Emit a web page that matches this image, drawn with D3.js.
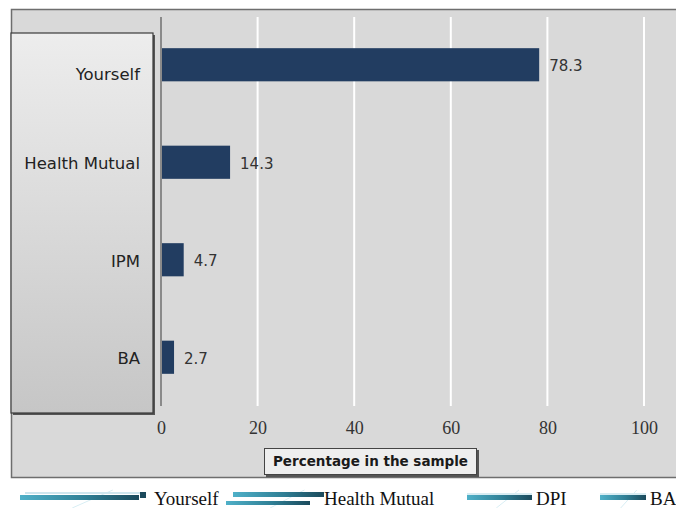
<!DOCTYPE html>
<html>
<head>
<meta charset="utf-8">
<script src="https://cdn.jsdelivr.net/npm/d3@7"></script>
<style>
  html, body { margin: 0; padding: 0; background: #ffffff; }
  svg { display: block; }
</style>
</head>
<body>
<script>
// Who pays for care: share of respondents per payer
const categories = ["Yourself", "Health Mutual", "IPM", "BA"];
const values = [78.3, 14.3, 4.7, 2.7];
const xTicks = [0, 20, 40, 60, 80, 100];
const axisTitle = "Percentage in the sample";
const legendLabels = ["Yourself", "Health Mutual", "DPI", "BA"];

const W = 676, H = 508;
const svg = d3.select("body").append("svg").attr("width", W).attr("height", H);
const defs = svg.append("defs");

// panel gradient for the category label box
const pg = defs.append("linearGradient").attr("id", "panelGrad")
  .attr("x1", 0).attr("y1", 0).attr("x2", 0).attr("y2", 1);
pg.append("stop").attr("offset", "0%").attr("stop-color", "#ededed");
pg.append("stop").attr("offset", "100%").attr("stop-color", "#c6c6c6");

// legend swatch gradient
const lg = defs.append("linearGradient").attr("id", "legGrad")
  .attr("x1", 0).attr("y1", 0).attr("x2", 1).attr("y2", 0);
lg.append("stop").attr("offset", "0%").attr("stop-color", "#4fb0c8");
lg.append("stop").attr("offset", "55%").attr("stop-color", "#2f7f95");
lg.append("stop").attr("offset", "100%").attr("stop-color", "#1b4a5c");

// outer chart frame
svg.append("rect").attr("x", 11.5).attr("y", 9.5).attr("width", 680).attr("height", 468)
  .attr("fill", "#d9d9d9").attr("stroke", "#6e6e6e").attr("stroke-width", 1.5);

const x = d3.scaleLinear().domain([0, 100]).range([161, 644]);
const y = d3.scaleBand().domain(categories).range([16, 406]).paddingInner(0.66).paddingOuter(0.33);

// vertical gridlines
svg.append("g").selectAll("line").data(xTicks.filter(d => d > 0)).join("line")
  .attr("x1", d => x(d)).attr("x2", d => x(d))
  .attr("y1", 17).attr("y2", 406)
  .attr("stroke", "#ffffff").attr("stroke-width", 2);

// category label panel with drop shadow edges
svg.append("rect").attr("x", 13).attr("y", 35).attr("width", 142).attr("height", 380)
  .attr("fill", "#555");
svg.append("rect").attr("x", 11).attr("y", 33).attr("width", 142).attr("height", 380)
  .attr("fill", "url(#panelGrad)").attr("stroke", "#3a3a3a").attr("stroke-width", 1.2);

// value axis line
svg.append("line").attr("x1", 161).attr("x2", 161).attr("y1", 17).attr("y2", 406)
  .attr("stroke", "#8a8a8a").attr("stroke-width", 2);

// bars
svg.append("g").selectAll("rect").data(values).join("rect")
  .attr("x", x(0) + 1)
  .attr("y", (d, i) => y(categories[i]))
  .attr("width", d => x(d) - x(0) - 1)
  .attr("height", y.bandwidth())
  .attr("fill", "#223d61");

// value labels
svg.append("g").selectAll("text").data(values).join("text")
  .attr("x", d => x(d) + 10)
  .attr("y", (d, i) => y(categories[i]) + y.bandwidth() / 2 + 1)
  .attr("dy", "0.36em")
  .attr("font-family", "DejaVu Sans, sans-serif").attr("font-size", 15)
  .attr("fill", "#333")
  .text(d => d.toFixed(1));

// category labels (the top one sits a little lower, clear of the panel's top edge)
svg.append("g").selectAll("text").data(categories).join("text")
  .attr("x", 140)
  .attr("y", (d, i) => y(d) + y.bandwidth() / 2 + (i === 0 ? 9 : 1))
  .attr("dy", "0.36em")
  .attr("text-anchor", "end")
  .attr("font-family", "DejaVu Sans, sans-serif").attr("font-size", 16.5)
  .attr("fill", "#222")
  .text(d => d);

// x tick labels through a d3 axis
const xAxis = d3.axisBottom(x).tickValues(xTicks).tickSize(0).tickPadding(0).tickFormat(d3.format("d"));
const ax = svg.append("g").attr("transform", "translate(0,421)").call(xAxis);
ax.select(".domain").remove();
ax.selectAll("text").attr("font-family", "Liberation Serif, serif").attr("font-size", 18)
  .attr("fill", "#333");

// axis title box
svg.append("rect").attr("x", 266).attr("y", 450).attr("width", 213).attr("height", 27).attr("fill", "#555");
svg.append("rect").attr("x", 264.5).attr("y", 448.5).attr("width", 212).attr("height", 26)
  .attr("fill", "#eeeeee").attr("stroke", "#444").attr("stroke-width", 1);
svg.append("text").attr("x", 370.5).attr("y", 466)
  .attr("text-anchor", "middle")
  .attr("font-family", "DejaVu Sans, sans-serif").attr("font-weight", "bold").attr("font-size", 13.5)
  .attr("fill", "#1a1a1a")
  .text(axisTitle);

// legend beneath the frame
const legendItems = [
  { label: legendLabels[0], sx: 20, sw: 116, tx: 154 },
  { label: legendLabels[1], sx: 226, sw: 98, tx: 324 },
  { label: legendLabels[2], sx: 467, sw: 65, tx: 536 },
  { label: legendLabels[3], sx: 600, sw: 46, tx: 650 }
];
const leg = svg.append("g");
legendItems.forEach((d, i) => {
  const g = leg.append("g");
  // faint diagonal sheen
  g.append("line").attr("x1", d.sx + d.sw * 0.45).attr("y1", 508).attr("x2", d.sx + d.sw * 0.8).attr("y2", 490)
    .attr("stroke", "#d8eef4").attr("stroke-width", 1);
  if (i === 0) {
    g.append("rect").attr("x", d.sx + 5).attr("y", 492).attr("width", d.sw).attr("height", 2).attr("fill", "#cfe6ee");
    g.append("rect").attr("x", d.sx + 120).attr("y", 492).attr("width", 6).attr("height", 6).attr("fill", "#1b4a5c");
    g.append("rect").attr("x", d.sx).attr("y", 495).attr("width", d.sw + 3).attr("height", 5).attr("fill", "url(#legGrad)");
  } else if (i === 1) {
    g.append("rect").attr("x", d.sx + 7).attr("y", 492).attr("width", d.sw - 7).attr("height", 5).attr("fill", "url(#legGrad)");
    g.append("rect").attr("x", d.sx).attr("y", 501).attr("width", d.sw - 14).attr("height", 4).attr("fill", "url(#legGrad)");
  } else {
    g.append("rect").attr("x", d.sx).attr("y", 493).attr("width", d.sw).attr("height", 2).attr("fill", "#d7ecf2");
    g.append("rect").attr("x", d.sx).attr("y", 495).attr("width", d.sw).attr("height", 5).attr("fill", "url(#legGrad)");
  }
  g.append("text").attr("x", d.tx).attr("y", 505)
    .attr("font-family", "Liberation Serif, serif").attr("font-size", 19)
    .attr("fill", "#111").text(d.label);
});
</script>
</body>
</html>
